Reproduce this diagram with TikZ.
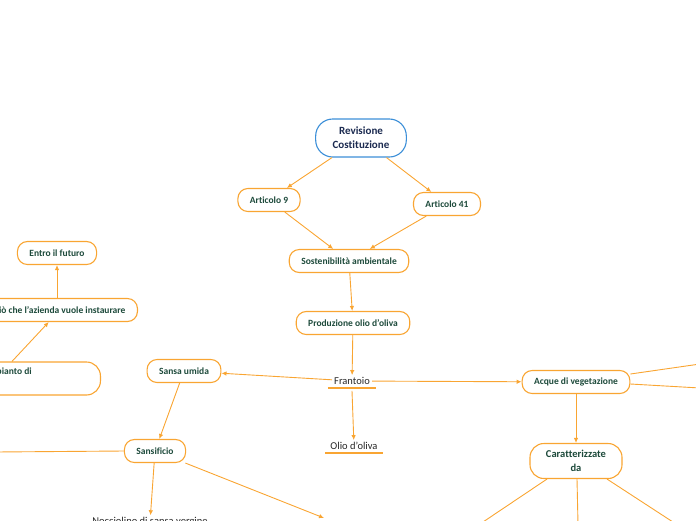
\documentclass[tikz,border=0pt]{standalone}
\usepackage{fontspec}
\setmainfont{Carlito}[Ligatures=NoCommon]
\usetikzlibrary{arrows.meta}
\definecolor{mmorange}{HTML}{F9A532}
\definecolor{mmblue}{HTML}{3C8FD8}
\definecolor{mmgreen}{HTML}{1D4A3B}
\definecolor{mmnavy}{HTML}{1B2A50}
\tikzset{
	topic/.style={draw=mmorange, line width=1.1pt, rounded corners=10pt, fill=white, text=mmgreen, font=\bfseries\fontsize{9.5}{11}\selectfont, inner xsep=12pt, minimum height=23pt, align=center},
	central/.style={topic, draw=mmblue, text=mmnavy, font=\bfseries\fontsize{11}{14}\selectfont, inner xsep=17pt, minimum height=38pt, rounded corners=17pt},
	plain/.style={text=black!85, font=\fontsize{10.5}{12}\selectfont, inner sep=2pt},
	link/.style={draw=mmorange, line width=0.9pt, -{Latex[length=5pt,width=4.5pt]}},
	branch/.style={draw=mmorange, line width=0.9pt},
	uline/.style={draw=mmorange, line width=1.6pt}
}

\begin{document}
\begin{tikzpicture}[x=1pt, y=-1pt]
			%%%%% START %%%%%
			
			\useasboundingbox (0,0) rectangle (696,520);
			\clip (0,0) rectangle (696,520);
			
			\node[central] (rev) at (361,138) {Revisione\\Costituzione};
			\node[topic] (art9) at (269,200) {Articolo 9};
			\node[topic] (art41) at (447,204) {Articolo 41};
			\node[topic] (sost) at (349,261) {Sostenibilità ambientale};
			\node[topic] (prod) at (353,323) {Produzione olio d'oliva};
			
			\node[plain] (frantoio) at (352,381) {Frantoio};
			\node[plain] (olio) at (354,446) {Olio d'oliva};
			\draw[uline] ([xshift=-4pt,yshift=-1pt]frantoio.south west) -- ([xshift=4pt,yshift=-1pt]frantoio.south east);
			\draw[uline] ([xshift=-3pt,yshift=-1pt]olio.south west) -- ([xshift=3pt,yshift=-1pt]olio.south east);
			
			\node[topic] (acque) at (576,382) {Acque di vegetazione};
			\node[topic, font=\bfseries\fontsize{10.5}{14}\selectfont, inner xsep=16pt, minimum height=35pt, rounded corners=14pt] (caratt) at (576,461) {Caratterizzate\\da};
			
			\node[topic] (sansa) at (184,371) {Sansa umida};
			\node[topic] (sansif) at (155,451) {Sansificio};
			\node[plain] (noccio) at (150,522) {Nocciolino di sansa vergine};
			
			\node[topic] (entro) at (57,253) {Entro il futuro};
			\node[topic, anchor=east] (cio) at (138,310) {Ciò che l'azienda vuole instaurare};
			\node[topic, anchor=east, text width=102pt, align=flush left, minimum height=33pt, rounded corners=14pt] (impianto) at (101,378.5) {Impianto di\\\strut};
			
			% free ends outside the frame
			\coordinate (acqueA) at (700,364);
			\coordinate (acqueB) at (700,388);
			\coordinate (carA) at (480,524);
			\coordinate (carB) at (578,524);
			\coordinate (carC) at (676,524);
			\coordinate (sansifL) at (-5,452);
			\coordinate (sansifR) at (324,518);
			
			\draw[link] (rev) -- (art9);
			\draw[link] (rev) -- (art41);
			\draw[link] (art9) -- (sost);
			\draw[link] (art41) -- (sost);
			\draw[link] (sost) -- (prod);
			\draw[link] (prod) -- (frantoio);
			
			\draw[link] (frantoio) -- (sansa);
			\draw[link] (frantoio) -- (acque);
			\draw[link] ([yshift=-4pt]frantoio.south) -- (olio);
			
			\draw[link] (acque) -- (caratt);
			\draw[branch] ([yshift=8pt]acque.east) -- (acqueA);
			\draw[branch] ([yshift=-2pt]acque.east) -- (acqueB);
			\draw[branch] ([xshift=-29pt]caratt.south) -- (carA);
			\draw[branch] ([xshift=1pt]caratt.south) -- (carB);
			\draw[branch] ([xshift=31pt]caratt.south) -- (carC);
			
			\draw[link] (sansa) -- (sansif);
			\draw[branch] (sansif.west) -- (sansifL);
			\draw[link] (sansif) -- (noccio);
			\draw[link] (sansif) -- (sansifR);
			
			\draw[link] ([xshift=-25.5pt]impianto.north) -- ([xshift=-11pt]cio.south);
			\draw[link] (cio.north -| entro.south) -- (entro.south);
			
			%%%%% END %%%%%
\end{tikzpicture}
\end{document}
